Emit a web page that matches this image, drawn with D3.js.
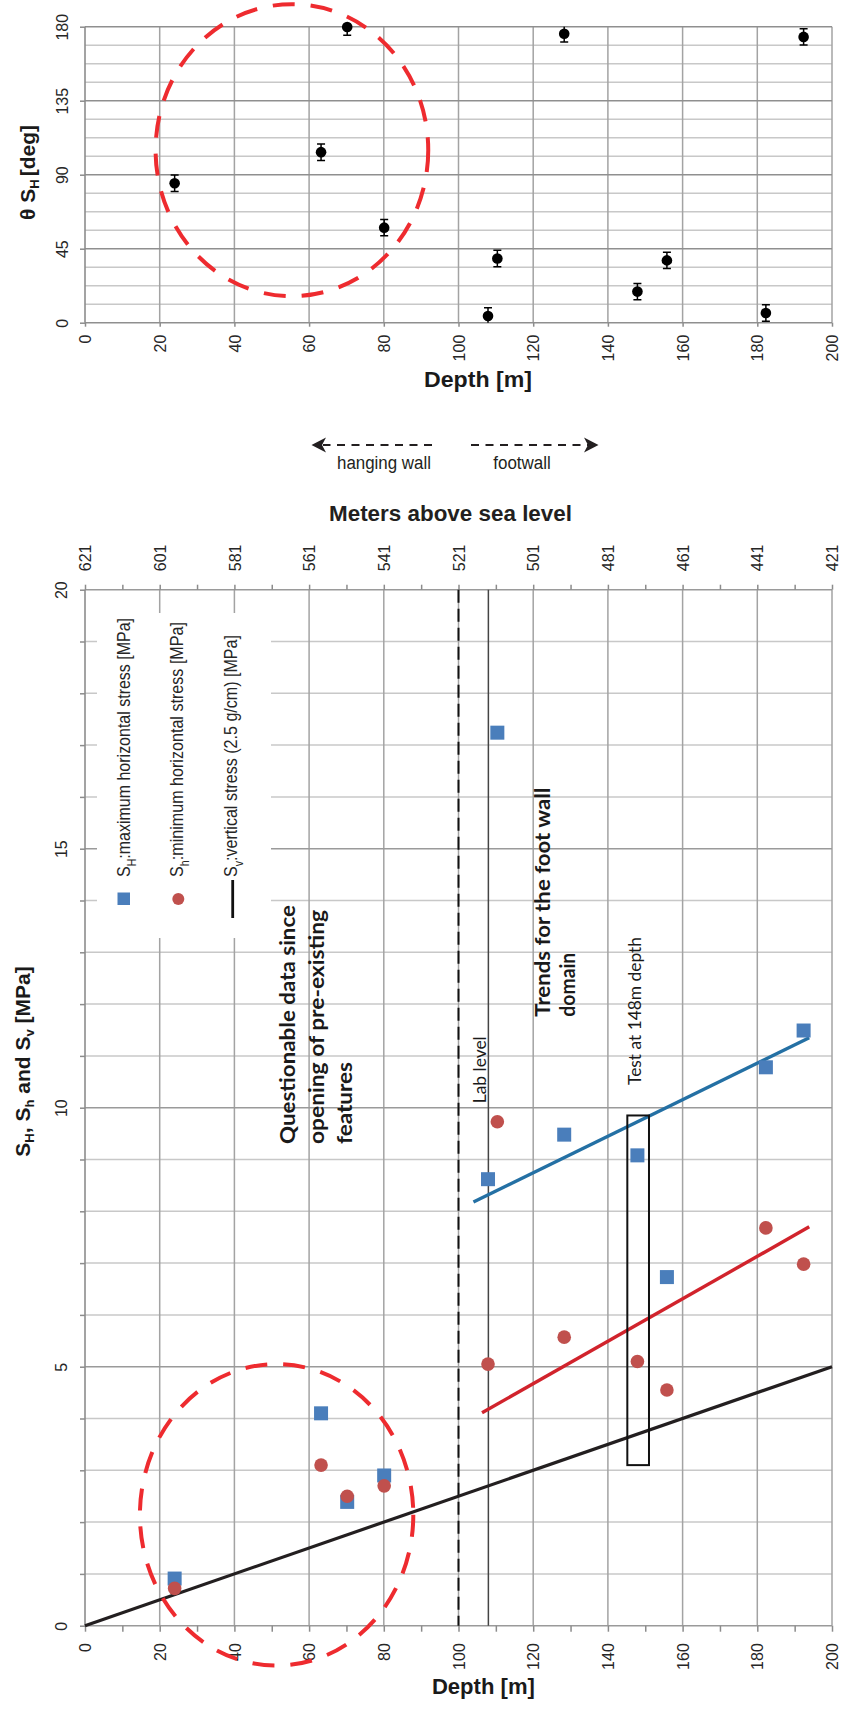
<!DOCTYPE html>
<html><head><meta charset="utf-8">
<script src="https://cdn.jsdelivr.net/npm/d3@7"></script>
<style>body{margin:0;background:#fff}svg{display:block}</style>
</head><body>
<svg id="c" width="843" height="1709"></svg>
<script>
// ---------- data ----------
const depths   = [24, 63.2, 70.2, 80.1, 107.9, 110.4, 128.3, 147.9, 155.8, 182.3, 192.4];
const thetaSH  = [84.8, 103.7, 179.8, 57.8, 4.1, 39.0, 175.7, 18.9, 37.9, 5.9, 173.8];
const thetaErr = [5, 5, 5, 5, 5, 5, 5, 5, 5, 5, 5];
const SHmax    = [0.91, 4.10, 2.39, 2.90, 8.62, 17.24, 9.48, 9.08, 6.73, 10.78, 11.49];
const Shmin    = [0.72, 3.10, 2.50, 2.70, 5.05, 9.73, 5.57, 5.10, 4.55, 7.68, 6.98];
const SvLine   = [[0, 0], [200, 5]];
const trendSH  = [[104, 8.18], [193.9, 11.35]];
const trendSh  = [[106.3, 4.11], [193.9, 7.70]];
const depthTicks  = [0, 20, 40, 60, 80, 100, 120, 140, 160, 180, 200];
const depthMinor  = d3.range(0, 201, 10);
const thetaTicks  = [0, 45, 90, 135, 180];
const thetaGrid   = d3.range(0, 180.01, 11.25);
const stressTicks = [0, 5, 10, 15, 20];
const stressGrid  = d3.range(0, 21, 1);
const elevTicks   = [621, 601, 581, 561, 541, 521, 501, 481, 461, 441, 421];
const elevMinor   = d3.range(621, 420, -10);
const faultDepth = 100, labDepth = 108;
const testBox = [145.2, 151.0, 3.1, 9.85];          // depth0, depth1, stress0, stress1
const ellTop  = [55.4, 104.9, 36.5, 88.8];          // depth, theta, r-depth, r-theta
const ellBot  = [51.3, 2.14, 36.6, 2.91];           // depth, stress, r-depth, r-stress

// ---------- setup ----------
const svg = d3.select("#c");
const TICKFONT = "'Liberation Sans', Arial, sans-serif";
const NARROW = "'Liberation Sans Narrow', 'Liberation Sans', Arial, sans-serif";
const CAL = "Lato, 'Open Sans', sans-serif";
const x = d3.scaleLinear().domain([0, 200]).range([85, 832]);
const yT = d3.scaleLinear().domain([0, 180]).range([322.7, 26.7]);
const yB = d3.scaleLinear().domain([0, 20]).range([1625.7, 589.7]);
const elev = d3.scaleLinear().domain([621, 421]).range([85, 832]);

function vtext(px, py, anchor, txt, size, weight, fam, len, fill) {
  const t = svg.append("text").attr("transform", `translate(${px},${py}) rotate(-90)`)
    .attr("text-anchor", anchor).attr("font-size", size).attr("font-weight", weight || "normal")
    .attr("font-family", fam || TICKFONT).attr("fill", fill || "#1a1a1a").text(txt);
  if (len) t.attr("textLength", len).attr("lengthAdjust", "spacingAndGlyphs");
  return t;
}
function styleAxis(g) {
  g.attr("font-family", TICKFONT).attr("font-size", 16);
  g.select(".domain").remove();
  g.selectAll(".tick line").attr("stroke", "#8c8c8c").attr("stroke-width", 1.5);
  g.selectAll(".tick text").attr("fill", "#262626").attr("x", 0).attr("y", 0);
}

// ================= TOP CHART =================
const gT = svg.append("g");
gT.selectAll(".hmin").data(thetaGrid.filter(d => d % 45 !== 0)).join("line")
  .attr("x1", x(0)).attr("x2", x(200)).attr("y1", d => yT(d)).attr("y2", d => yT(d))
  .attr("stroke", "#c8c8c8").attr("stroke-width", 1.5);
gT.selectAll(".vg").data(depthTicks.slice(1)).join("line")
  .attr("x1", d => x(d)).attr("x2", d => x(d)).attr("y1", yT(0)).attr("y2", yT(180))
  .attr("stroke", "#a3a3a3").attr("stroke-width", 1.5);
gT.selectAll(".hmaj").data(thetaTicks).join("line")
  .attr("x1", x(0)).attr("x2", x(200)).attr("y1", d => yT(d)).attr("y2", d => yT(d))
  .attr("stroke", "#8f8f8f").attr("stroke-width", 1.6);
gT.append("line").attr("x1", x(0)).attr("x2", x(0)).attr("y1", yT(0)).attr("y2", yT(180))
  .attr("stroke", "#8c8c8c").attr("stroke-width", 1.6);

const axTB = gT.append("g").attr("transform", `translate(0,${yT(0)})`)
  .call(d3.axisBottom(x).tickValues(depthTicks).tickSize(4).tickFormat(d3.format("d")));
styleAxis(axTB);
axTB.selectAll(".tick text").attr("dy", "0.35em").attr("text-anchor", "end")
  .attr("transform", "translate(0,12) rotate(-90)");
const axTL = gT.append("g").attr("transform", `translate(${x(0)},0)`)
  .call(d3.axisLeft(yT).tickValues(thetaTicks).tickSize(5).tickFormat(d3.format("d")));
styleAxis(axTL);
axTL.selectAll(".tick text").attr("dy", 0).attr("text-anchor", "middle")
  .attr("transform", "translate(-17,0) rotate(-90)");

const topPts = depths.map((d, i) => ({d, t: thetaSH[i], e: thetaErr[i]}));
gT.append("defs").append("clipPath").attr("id", "clipT").append("rect")
  .attr("x", x(0)).attr("y", yT(180)).attr("width", x(200) - x(0)).attr("height", yT(0) - yT(180));
const eb = gT.append("g").attr("clip-path", "url(#clipT)").attr("stroke", "#000").attr("stroke-width", 1.5);
topPts.forEach(p => {
  eb.append("line").attr("x1", x(p.d)).attr("x2", x(p.d)).attr("y1", yT(p.t - p.e)).attr("y2", yT(p.t + p.e));
  eb.append("line").attr("x1", x(p.d) - 4).attr("x2", x(p.d) + 4).attr("y1", yT(p.t - p.e)).attr("y2", yT(p.t - p.e));
  eb.append("line").attr("x1", x(p.d) - 4).attr("x2", x(p.d) + 4).attr("y1", yT(p.t + p.e)).attr("y2", yT(p.t + p.e));
});
gT.selectAll(".pt").data(topPts).join("circle")
  .attr("cx", p => x(p.d)).attr("cy", p => yT(p.t)).attr("r", 5.3).attr("fill", "#000");

gT.append("ellipse").attr("cx", x(ellTop[0])).attr("cy", yT(ellTop[1]))
  .attr("rx", x(ellTop[2]) - x(0)).attr("ry", yT(0) - yT(ellTop[3]))
  .attr("fill", "none").attr("stroke", "#ee2b2f").attr("stroke-width", 4).attr("stroke-dasharray", "22,16");

vtext(35, 172.5, "middle", "", 21, "bold", TICKFONT).call(t => {
  t.append("tspan").text("θ S");
  t.append("tspan").attr("font-size", 13).attr("dy", 4).text("H");
  t.append("tspan").attr("dy", -4).attr("dx", 3).text("[deg]");
});
svg.append("text").attr("x", 478).attr("y", 387).attr("text-anchor", "middle")
  .attr("font-family", NARROW).attr("font-weight", "bold").attr("font-size", 22).attr("fill", "#1a1a1a")
  .attr("textLength", 108).attr("lengthAdjust", "spacingAndGlyphs").text("Depth [m]");

// ================= MIDDLE ARROWS =================
const arrY = 445;
const gA = svg.append("g").attr("stroke", "#231f20").attr("stroke-width", 2.2);
gA.append("line").attr("x1", 432).attr("x2", 323).attr("y1", arrY).attr("y2", arrY).attr("stroke-dasharray", "8,6.5");
gA.append("line").attr("x1", 471).attr("x2", 588).attr("y1", arrY).attr("y2", arrY).attr("stroke-dasharray", "8,6.5");
svg.append("path").attr("fill", "#231f20")
  .attr("d", `M311.5,${arrY} L326,${arrY - 7.5} L322,${arrY} L326,${arrY + 7.5} Z`);
svg.append("path").attr("fill", "#231f20")
  .attr("d", `M598.5,${arrY} L584,${arrY - 7.5} L588,${arrY} L584,${arrY + 7.5} Z`);
svg.append("text").attr("x", 384).attr("y", 468.5).attr("text-anchor", "middle").attr("font-family", NARROW)
  .attr("font-size", 18).attr("fill", "#231f20").attr("textLength", 94).attr("lengthAdjust", "spacingAndGlyphs").text("hanging wall");
svg.append("text").attr("x", 522).attr("y", 468.5).attr("text-anchor", "middle").attr("font-family", NARROW)
  .attr("font-size", 18).attr("fill", "#231f20").attr("textLength", 57.5).attr("lengthAdjust", "spacingAndGlyphs").text("footwall");
svg.append("text").attr("x", 450.5).attr("y", 521).attr("text-anchor", "middle").attr("font-family", NARROW)
  .attr("font-size", 22).attr("font-weight", "bold").attr("fill", "#231f20")
  .attr("textLength", 243).attr("lengthAdjust", "spacingAndGlyphs").text("Meters above sea level");

// ================= BOTTOM CHART =================
const gB = svg.append("g");
gB.selectAll(".hmin").data(stressGrid.filter(d => d % 5 !== 0)).join("line")
  .attr("x1", x(0)).attr("x2", x(200)).attr("y1", d => yB(d)).attr("y2", d => yB(d))
  .attr("stroke", "#c8c8c8").attr("stroke-width", 1.5);
gB.selectAll(".vg").data(depthTicks.slice(1)).join("line")
  .attr("x1", d => x(d)).attr("x2", d => x(d)).attr("y1", yB(0)).attr("y2", yB(20))
  .attr("stroke", "#a3a3a3").attr("stroke-width", 1.5);
gB.selectAll(".hmaj").data(stressTicks).join("line")
  .attr("x1", x(0)).attr("x2", x(200)).attr("y1", d => yB(d)).attr("y2", d => yB(d))
  .attr("stroke", "#9a9a9a").attr("stroke-width", 1.6);
gB.append("line").attr("x1", x(0)).attr("x2", x(0)).attr("y1", yB(0)).attr("y2", yB(20))
  .attr("stroke", "#8c8c8c").attr("stroke-width", 1.6);

const axBB = gB.append("g").attr("transform", `translate(0,${yB(0)})`)
  .call(d3.axisBottom(x).tickValues(depthMinor).tickSize(6).tickFormat(d => d % 20 === 0 ? d : ""));
styleAxis(axBB);
axBB.selectAll(".tick text").attr("dy", "0.35em").attr("text-anchor", "end")
  .attr("transform", "translate(0,17.5) rotate(-90)");
const axBL = gB.append("g").attr("transform", `translate(${x(0)},0)`)
  .call(d3.axisLeft(yB).tickValues(stressGrid).tickSize(5).tickFormat(d => d % 5 === 0 ? d : ""));
styleAxis(axBL);
axBL.selectAll(".tick text").attr("dy", 0).attr("text-anchor", "middle")
  .attr("transform", "translate(-18,0) rotate(-90)");
const axBT = gB.append("g").attr("transform", `translate(0,${yB(20)})`)
  .call(d3.axisTop(elev).tickValues(elevMinor).tickSize(5).tickFormat(d => elevTicks.includes(d) ? d : ""));
styleAxis(axBT);
axBT.selectAll(".tick text").attr("dy", "0.35em").attr("text-anchor", "start")
  .attr("transform", "translate(0,-18.5) rotate(-90)");

gB.append("rect").attr("x", 97).attr("y", 613).attr("width", 174).attr("height", 325).attr("fill", "#fff");

gB.append("line").attr("x1", x(faultDepth)).attr("x2", x(faultDepth)).attr("y1", yB(20)).attr("y2", yB(0))
  .attr("stroke", "#111").attr("stroke-width", 2).attr("stroke-dasharray", "13,6");
gB.append("line").attr("x1", x(labDepth)).attr("x2", x(labDepth)).attr("y1", yB(20)).attr("y2", yB(0))
  .attr("stroke", "#444").attr("stroke-width", 1.5);

const lineB = d3.line().x(d => x(d[0])).y(d => yB(d[1]));
gB.append("path").attr("d", lineB(SvLine)).attr("stroke", "#231f20").attr("stroke-width", 3.2).attr("fill", "none");
gB.append("path").attr("d", lineB(trendSH)).attr("stroke", "#2470a4").attr("stroke-width", 3.4).attr("fill", "none");
gB.append("path").attr("d", lineB(trendSh)).attr("stroke", "#d1232c").attr("stroke-width", 3.4).attr("fill", "none");

gB.append("rect").attr("x", x(testBox[0])).attr("y", yB(testBox[3]))
  .attr("width", x(testBox[1]) - x(testBox[0])).attr("height", yB(testBox[2]) - yB(testBox[3]))
  .attr("fill", "none").attr("stroke", "#111").attr("stroke-width", 2);

const sq = 14;
gB.selectAll(".sq").data(depths.map((d, i) => [d, SHmax[i]])).join("rect")
  .attr("x", d => x(d[0]) - sq / 2).attr("y", d => yB(d[1]) - sq / 2).attr("width", sq).attr("height", sq)
  .attr("fill", "#4a7ebb");
gB.selectAll(".ci").data(depths.map((d, i) => [d, Shmin[i]])).join("circle")
  .attr("cx", d => x(d[0])).attr("cy", d => yB(d[1])).attr("r", 6.8).attr("fill", "#c0504d");

gB.append("ellipse").attr("cx", x(ellBot[0])).attr("cy", yB(ellBot[1]))
  .attr("rx", x(ellBot[2]) - x(0)).attr("ry", yB(0) - yB(ellBot[3]))
  .attr("fill", "none").attr("stroke", "#ee2b2f").attr("stroke-width", 4).attr("stroke-dasharray", "22,16");

// legend
gB.append("rect").attr("x", 117.5).attr("y", 892.5).attr("width", 12.5).attr("height", 12.5).attr("fill", "#4a7ebb");
gB.append("circle").attr("cx", 178.3).attr("cy", 899).attr("r", 6).attr("fill", "#c0504d");
gB.append("line").attr("x1", 232.7).attr("x2", 232.7).attr("y1", 880).attr("y2", 918).attr("stroke", "#111").attr("stroke-width", 2.8);
const legTexts = [["H", ":maximum horizontal stress [MPa]", 130, 259], ["h", ":minimum horizontal stress [MPa]", 183.3, 255], ["v", ":vertical stress (2.5 g/cm) [MPa]", 237, 242]];
legTexts.forEach(([sub, rest, bx, len]) => {
  vtext(bx, 877, "start", "", 18, "normal", NARROW, null, "#262626").call(t => {
    t.attr("textLength", len).attr("lengthAdjust", "spacingAndGlyphs");
    t.append("tspan").text("S");
    t.append("tspan").attr("font-size", 12).attr("dy", 6).text(sub);
    t.append("tspan").attr("dy", -6).text(rest);
  });
});

// annotations
vtext(295, 1144, "start", "Questionable data since", 20, "bold", CAL, 239);
vtext(323.5, 1144, "start", "opening of pre-existing", 20, "bold", CAL, 234);
vtext(351.5, 1144, "start", "features", 20, "bold", CAL, 82);
vtext(550, 1016.7, "start", "Trends for the foot wall", 20, "bold", CAL, 229);
vtext(575, 1016.7, "start", "domain", 20, "bold", CAL, 64);
vtext(485.5, 1103.3, "start", "Lab level", 17, "normal", CAL, 67);
vtext(640.5, 1085, "start", "Test at 148m depth", 17, "normal", CAL, 148);

// axis titles
vtext(30, 1061.5, "middle", "", 21, "bold", TICKFONT).call(t => {
  t.append("tspan").text("S");
  t.append("tspan").attr("font-size", 13).attr("dy", 4).text("H");
  t.append("tspan").attr("dy", -4).text(", S");
  t.append("tspan").attr("font-size", 13).attr("dy", 4).text("h");
  t.append("tspan").attr("dy", -4).text(" and S");
  t.append("tspan").attr("font-size", 13).attr("dy", 4).text("v");
  t.append("tspan").attr("dy", -4).text(" [MPa]");
});
svg.append("text").attr("x", 483.4).attr("y", 1694).attr("text-anchor", "middle")
  .attr("font-family", NARROW).attr("font-weight", "bold").attr("font-size", 22).attr("fill", "#1a1a1a")
  .attr("textLength", 103).attr("lengthAdjust", "spacingAndGlyphs").text("Depth [m]");
</script>
</body></html>
